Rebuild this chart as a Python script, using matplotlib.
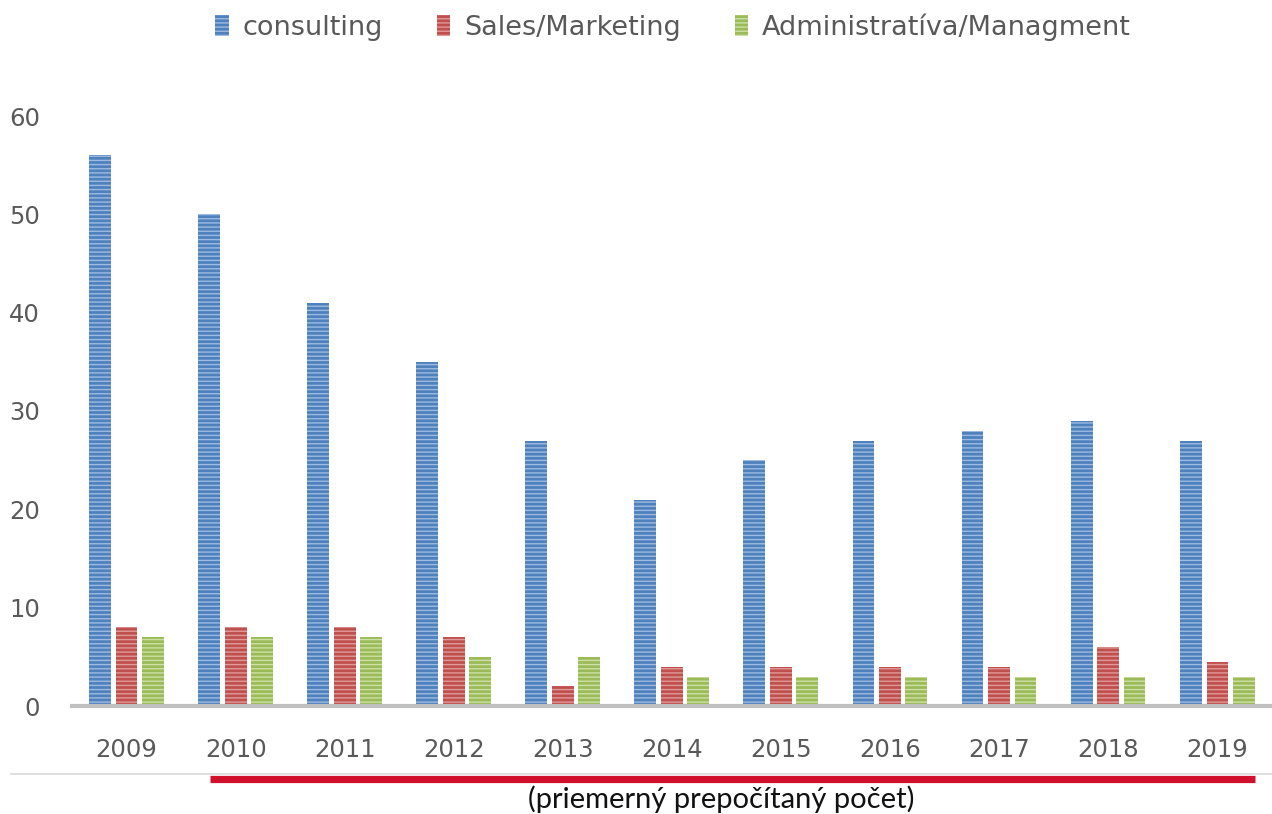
import matplotlib
matplotlib.use("Agg")
import matplotlib.pyplot as plt
import numpy as np
from matplotlib.patches import Patch
from matplotlib.lines import Line2D

years = ["2009", "2010", "2011", "2012", "2013", "2014", "2015", "2016", "2017", "2018", "2019"]
consulting = [56, 50, 41, 35, 27, 21, 25, 27, 28, 29, 27]
sales = [8, 8, 8, 7, 2, 4, 4, 4, 4, 6, 4.5]
admin = [7, 7, 7, 5, 5, 3, 3, 3, 3, 3, 3]
series_names = ["consulting", "Sales/Marketing", "Administratíva/Managment"]
yticks = [0, 10, 20, 30, 40, 50, 60]

colors = ["#4F81BD", "#C0504D", "#9BBB59"]
stripes = ["#9DBBE2", "#E09A98", "#CDE0A6"]

plt.rcParams["hatch.linewidth"] = 1.0

fig = plt.figure(figsize=(12.72, 8.14), dpi=100)
W, H = 1272, 814
ax = fig.add_axes([72 / W, (H - 706) / H, 1200 / W, (706 - 116) / H])

x = np.arange(len(years))
bw = 0.2
offs = [-0.245, 0.0, 0.24]
for vals, c, sc, off in zip([consulting, sales, admin], colors, stripes, offs):
    ax.bar(x + off, vals, width=bw, color=c, edgecolor=sc, linewidth=0, hatch="----", zorder=2)

ax.set_xlim(-0.5, 10.5)
ax.set_ylim(0, 60)
ax.set_xticks(x)
ax.set_xticklabels(years)
ax.set_yticks(yticks)
for s in ["top", "right", "left"]:
    ax.spines[s].set_visible(False)
ax.spines["bottom"].set_color("#C0C0C0")
ax.spines["bottom"].set_linewidth(3)
ax.spines["bottom"].set_zorder(3)
ax.tick_params(axis="both", length=0, labelsize=17.5, labelcolor="#595959")
ax.tick_params(axis="x", pad=23)
ax.tick_params(axis="y", pad=23)

# legend
handles = [Patch(facecolor=c, edgecolor=sc, hatch="----", linewidth=0) for c, sc in zip(colors, stripes)]
leg = fig.legend(handles, series_names, loc="center", bbox_to_anchor=(673 / W, 1 - 27 / H), ncol=3,
                 frameon=False, fontsize=19.5, handlelength=0.5, handleheight=0.8,
                 handletextpad=0.5, columnspacing=2.0, labelcolor="#595959")

# bottom decoration lines
fig.add_artist(Line2D([11 / W, 1.0], [1 - 773.5 / H] * 2, color="#D9D9D9", linewidth=1.2))
fig.add_artist(Line2D([210 / W, 1255 / W], [1 - 778.5 / H] * 2, color="#D1102E", linewidth=5.2, solid_capstyle="butt"))
fig.text(721 / W, 1 - 799 / H, "(priemerný prepočítaný počet)", ha="center", va="center",
         fontsize=21, family="Lato", color="#111111")

fig.savefig("out.png", dpi=100)
